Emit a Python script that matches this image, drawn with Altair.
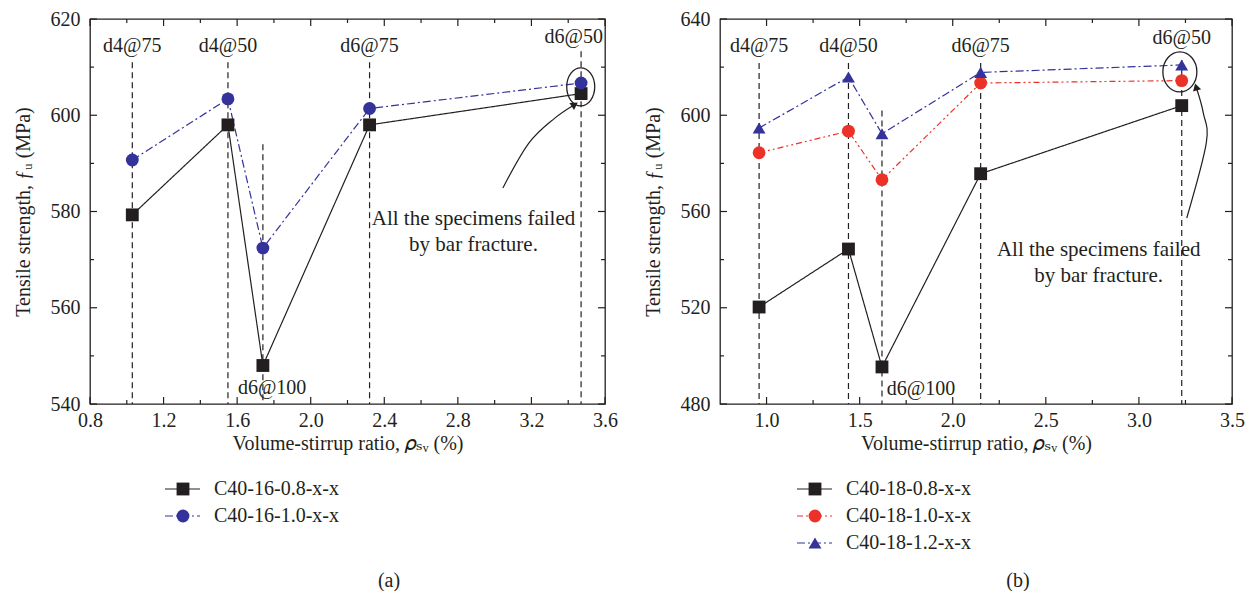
import altair as alt
import pandas as pd

FONT = "Liberation Serif"
TFONT = "Liberation Serif, DejaVu Serif"
INK = "#231f20"
BLUE = "#33339a"
RED = "#ec3228"
FS = 20

# ---------------- data ----------------
rho_a = [1.03, 1.55, 1.74, 2.32, 3.47]
fu_a_08 = [579.3, 598.0, 548.0, 598.0, 604.5]
fu_a_10 = [590.7, 603.4, 572.4, 601.4, 606.7]
series_a = ["C40-16-0.8-x-x", "C40-16-1.0-x-x"]

rho_b = [0.96, 1.44, 1.62, 2.15, 3.23]
fu_b_08 = [520.3, 544.4, 495.4, 575.7, 604.0]
fu_b_10 = [584.4, 593.4, 573.2, 613.4, 614.4]
fu_b_12 = [594.7, 615.9, 592.3, 617.8, 620.9]
series_b = ["C40-18-0.8-x-x", "C40-18-1.0-x-x", "C40-18-1.2-x-x"]

stirrups = ["d4@75", "d4@50", "d6@100", "d6@75", "d6@50"]

guide_top_a = [611, 611, 594, 611, 613.3]
guide_top_b = [621.7, 621.7, 602, 621.7, 623]

label_x_a = [1.03, 1.55, 1.79, 2.32, 3.43]
label_y_a = [614.4, 614.4, 543.3, 614.4, 616.3]
label_x_b = [0.96, 1.44, 1.83, 2.15, 3.23]
label_y_b = [628.8, 628.8, 486.3, 628.8, 632.1]

note_text = "All the specimens failed\nby bar fracture."
note_a = [2.885, 578.4]
note_b = [2.784, 543.8]

arrow_a_x = [3.045, 3.186, 3.327, 3.43]
arrow_a_y = [584.9, 594.2, 599.4, 602.1]
arrow_b_x = [3.257, 3.362, 3.346, 3.309]
arrow_b_y = [557.3, 588.5, 600.9, 611.3]

ellipse_a = [3.468, 605.9]
ellipse_b = [3.22, 618.0]

x_major_a = [0.8, 1.2, 1.6, 2.0, 2.4, 2.8, 3.2, 3.6]
x_minor_a = [1.0, 1.4, 1.8, 2.2, 2.6, 3.0, 3.4]
y_major_a = [540, 560, 580, 600, 620]
y_minor_a = [550, 570, 590, 610]
x_major_b = [1.0, 1.5, 2.0, 2.5, 3.0, 3.5]
x_minor_b = [1.25, 1.75, 2.25, 2.75, 3.25]
y_major_b = [480, 520, 560, 600, 640]
y_minor_b = [500, 540, 580, 620]

XTITLE = "Volume-stirrup ratio, \U0001D70C\u209B\u1D65 (%)"
YTITLE = "Tensile strength, \u0192\u1D64 (MPa)"


def ellipse_path(rx):
    return f"M0,-1A{rx},1 0 1,1 0,1A{rx},1 0 1,1 0,-1Z"


def panel(rho, values, series, colors, dashes, shapes, sizes, xdom, ydom,
          xmaj, xmin, ymaj, ymin, gtop, lx, ly, note, ax, ay, aangle,
          ell, ell_rx, ell_size, W, H):
    rows = []
    for s, vals in zip(series, values):
        for i, (r, v) in enumerate(zip(rho, vals)):
            rows.append({"x": r, "y": v, "series": s, "i": i})
    df = pd.DataFrame(rows)

    X = alt.X("x:Q", scale=alt.Scale(domain=xdom, nice=False, zero=False),
              axis=alt.Axis(values=xmaj, format=".1f", title=XTITLE,
                            labelFlush=False, labelPadding=6, titlePadding=3))
    Y = alt.Y("y:Q", scale=alt.Scale(domain=ydom, nice=False, zero=False),
              axis=alt.Axis(values=ymaj, format="d", title=YTITLE,
                            labelPadding=10, titlePadding=17))
    col = alt.Color("series:N", scale=alt.Scale(domain=series, range=colors), legend=None)
    dash = alt.StrokeDash("series:N", scale=alt.Scale(domain=series, range=dashes), legend=None)
    shp = alt.Shape("series:N", scale=alt.Scale(domain=series, range=shapes), legend=None)
    siz = alt.Size("series:N", scale=alt.Scale(domain=series, range=sizes), legend=None)

    guides = pd.DataFrame({"x": rho, "y": gtop, "y2": [ydom[0]] * len(rho)})
    g = alt.Chart(guides).mark_rule(color=INK, strokeWidth=1.2, strokeDash=[6, 4]).encode(
        x=X, y=Y, y2="y2:Q")

    lines = alt.Chart(df).mark_line(strokeWidth=1.2).encode(
        x=X, y=Y, color=col, strokeDash=dash, order="i:O")
    pts = alt.Chart(df).mark_point(filled=True, opacity=1).encode(
        x=X, y=Y, color=col, shape=shp, size=siz)

    lab = pd.DataFrame({"x": lx, "y": ly, "t": stirrups})
    labels = alt.Chart(lab).mark_text(font=FONT, fontSize=FS, color=INK,
                                      baseline="middle").encode(x=X, y=Y, text="t:N")

    nd = pd.DataFrame({"x": [note[0]], "y": [note[1]], "t": [note_text]})
    notes = alt.Chart(nd).mark_text(font=FONT, fontSize=21, color=INK, lineBreak="\n",
                                    lineHeight=26, baseline="middle").encode(
        x=X, y=Y, text="t:N")

    ad = pd.DataFrame({"x": ax, "y": ay, "i": list(range(len(ax)))})
    arrow = alt.Chart(ad).mark_line(color=INK, strokeWidth=1.2, interpolate="cardinal").encode(
        x=X, y=Y, order="i:O")
    head = alt.Chart(pd.DataFrame({"x": [ax[-1]], "y": [ay[-1]]})).mark_point(
        shape="triangle", filled=True, color=INK, opacity=1, size=70, angle=aangle).encode(x=X, y=Y)

    ed = pd.DataFrame({"x": [ell[0]], "y": [ell[1]]})
    ellp = alt.Chart(ed).mark_point(shape=ellipse_path(ell_rx), size=ell_size, filled=False,
                                    stroke=INK, strokeWidth=1.3, opacity=1).encode(x=X, y=Y)

    def xt(vals, ln, top):
        d = pd.DataFrame({"x": vals})
        if top:
            return alt.Chart(d).mark_rule(color=INK, strokeWidth=1.2).encode(
                x=X, y=alt.value(0), y2=alt.value(ln))
        return alt.Chart(d).mark_rule(color=INK, strokeWidth=1.2).encode(
            x=X, y=alt.value(H), y2=alt.value(H - ln))

    def yt(vals, ln, right):
        d = pd.DataFrame({"y": vals})
        if right:
            return alt.Chart(d).mark_rule(color=INK, strokeWidth=1.2).encode(
                y=Y, x=alt.value(W), x2=alt.value(W - ln))
        return alt.Chart(d).mark_rule(color=INK, strokeWidth=1.2).encode(
            y=Y, x=alt.value(0), x2=alt.value(ln))

    ticks = [xt(xmaj, 7, False), xt(xmin, 4, False), xt(xmaj, 7, True), xt(xmin, 4, True),
             yt(ymaj, 7, False), yt(ymin, 4, False), yt(ymaj, 7, True), yt(ymin, 4, True)]

    return alt.layer(g, *ticks, lines, pts, labels, notes, arrow, head, ellp).properties(
        width=W, height=H, view=alt.ViewBackground(stroke=INK, strokeWidth=1.3))


def legend_view(series, colors, dashes, shapes, sizes, caption, W, LH, lx, cx, cy):
    ld = pd.DataFrame({"series": series})
    n = len(series)
    Yl = alt.Y("series:N", scale=alt.Scale(type="point", domain=series,
                                           range=[10, 10 + 27 * (n - 1)], padding=0),
               axis=None)
    col = alt.Color("series:N", scale=alt.Scale(domain=series, range=colors), legend=None)
    dash = alt.StrokeDash("series:N", scale=alt.Scale(domain=series, range=dashes), legend=None)
    shp = alt.Shape("series:N", scale=alt.Scale(domain=series, range=shapes), legend=None)
    siz = alt.Size("series:N", scale=alt.Scale(domain=series, range=sizes), legend=None)
    r = alt.Chart(ld).mark_rule(strokeWidth=1.2).encode(
        x=alt.value(lx), x2=alt.value(lx + 35), y=Yl, color=col, strokeDash=dash)
    p = alt.Chart(ld).mark_point(filled=True, opacity=1).encode(
        x=alt.value(lx + 18), y=Yl, color=col, shape=shp, size=siz)
    t = alt.Chart(ld).mark_text(font=FONT, fontSize=FS, color=INK, align="left",
                                baseline="middle").encode(
        x=alt.value(lx + 49), y=Yl, text="series:N")
    c = alt.Chart(pd.DataFrame({"t": [caption]})).mark_text(
        font=FONT, fontSize=FS, color=INK, baseline="middle").encode(
        x=alt.value(cx), y=alt.value(cy), text="t:N")
    return alt.layer(r, p, t, c).properties(width=W, height=LH)


SOLID = [1, 0]
DASHDOT = [8, 3, 2, 3]
DASHDOTDOT = [6, 3, 2, 3, 2, 3]

colors_a = [INK, BLUE]
dashes_a = [SOLID, DASHDOT]
shapes_a = ["square", "circle"]
sizes_a = [165, 165]
colors_b = [INK, RED, BLUE]
dashes_b = [SOLID, DASHDOTDOT, DASHDOT]
shapes_b = ["square", "circle", "triangle-up"]
sizes_b = [165, 165, 230]

pa = panel(rho_a, [fu_a_08, fu_a_10], series_a, colors_a, dashes_a, shapes_a, sizes_a,
           [0.8, 3.6], [540, 620], x_major_a, x_minor_a, y_major_a, y_minor_a,
           guide_top_a, label_x_a, label_y_a, note_a, arrow_a_x, arrow_a_y, 56,
           ellipse_a, 0.737, 1444, 515, 385)
pb = panel(rho_b, [fu_b_08, fu_b_10, fu_b_12], series_b, colors_b, dashes_b, shapes_b, sizes_b,
           [0.75, 3.5], [480, 640], x_major_b, x_minor_b, y_major_b, y_minor_b,
           guide_top_b, label_x_b, label_y_b, note_b, arrow_b_x, arrow_b_y, 344,
           ellipse_b, 0.85, 1600, 512, 385)

la = legend_view(series_a, colors_a, dashes_a, shapes_a, sizes_a, "(a)", 515, 96, 75, 299, 102)
lb = legend_view(series_b, colors_b, dashes_b, shapes_b, sizes_b, "(b)", 512, 96, 77, 298, 102)

res = dict(x="independent", y="independent", color="independent",
           strokeDash="independent", shape="independent", size="independent")

colA = alt.vconcat(pa, la, spacing=25).resolve_scale(**res)
colB = alt.vconcat(pb, lb, spacing=25).resolve_scale(**res)

chart = alt.hconcat(colA, colB, spacing=23).resolve_scale(**res).properties(
    padding={"left": 4, "top": 0, "right": 0, "bottom": 0}
).configure_view(stroke=None).configure_axis(
    labelFont=FONT, labelFontSize=FS, labelColor=INK,
    titleFont=TFONT, titleFontSize=FS, titleFontWeight="normal", titleColor=INK,
    tickSize=0, domain=False, grid=False
)

chart.save("out.html", embed_options={"renderer": "svg", "actions": False})
